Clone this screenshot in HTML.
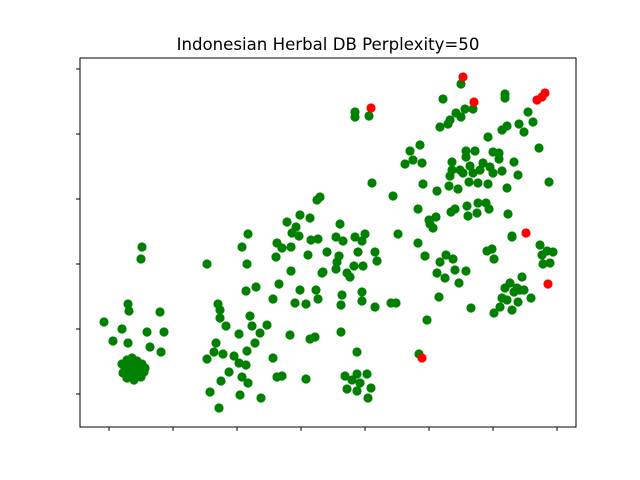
<!DOCTYPE html>
<html><head><meta charset="utf-8"><style>
html,body{margin:0;padding:0;background:#fff;}
svg{display:block;}
</style></head><body>
<svg id="chart" width="640" height="480">
<rect x="0" y="0" width="640" height="480" fill="#fff"/>
<text x="328" y="50" text-anchor="middle" font-family="DejaVu Sans, Liberation Sans, sans-serif" font-size="16.6" fill="#000">Indonesian Herbal DB Perplexity=50</text>
<g id="points"></g>
<g id="axes"></g>
</svg>
<script>
const greenX = [-188,-189,-202,-201,-170,-226,-208,-183,-166,-217,-202,-180,-169,
-208,-203,-198,-193,-188,-185,-195,-202,-207,-199,-192,-186,-196,-203,-190,-200,-205,-194,-189,-198,
-123,-82,-88,-83,-84,-74,-112,-110,-110,-104,-80,-78,-91,-63,-70,-75,-83,-114,-116,-107,-123,-96,-91,-84,-101,-109,-88,-82,-120,-90,-69,-111,-57,-53,-48,-24,
-13,-30,-20,-43,-34,-38,-31,-53,-48,-39,-19,-12,-3,-22,-54,-39,-8,-51,-30,-14,-57,-35,-24,-12,-40,-20,-15,
131,175,175,113,25,25,39,126,135,143,131,120,118,110,198,203,189,194,177,172,158,209,90,80,83,75,92,136,145,136,163,169,169,184,122,122,120,130,140,153,150,160,163,172,143,133,188,139,148,158,177,219,42,93,119,128,107,-10,63,88,121,125,137,148,156,159,147,138,178,99,106,103,100,10,182,6,25,35,68,
13,32,88,9,28,45,47,7,24,33,-7,6,17,20,95,116,123,110,125,136,107,115,129,12,32,32,11,45,61,66,109,141,97,11,27,89,15,27,37,30,17,27,41,38,22,
182,157,162,164,210,217,223,212,213,220,192,180,175,187,194,172,177,188,201,170,182,164,190,184];
const greenY = [-7,-19,-64,-71,-72,-82,-89,-92,-92,-101,-103,-107,-112,
-124,-120,-118,-121,-124,-128,-128,-130,-133,-136,-134,-132,-140,-138,-126,-126,-129,-131,-137,-122,
-24,6,-7,-24,-51,-47,-64,-70,-78,-86,-76,-86,-94,-85,-93,-103,-111,-103,-112,-114,-119,-116,-123,-125,-132,-141,-137,-143,-152,-155,-158,-168,-118,-137,-136,-139,
40,25,22,18,13,7,4,-3,-8,-7,0,1,-12,-15,-17,-31,-33,-44,-50,-50,-59,-63,-64,-59,-95,-99,-97,
156,146,142,141,128,123,124,127,131,131,123,120,116,113,128,118,116,108,114,110,103,92,95,89,80,76,77,89,89,83,88,87,81,78,78,70,64,70,74,77,70,73,67,69,67,67,65,58,57,56,52,58,57,56,54,51,49,43,44,31,28,31,34,37,37,31,27,24,26,20,23,12,16,16,4,3,3,6,6,
-1,-1,-3,-16,-12,-12,-21,-22,-26,-26,-32,-29,-33,-37,-16,-15,-19,-22,-30,-31,-33,-38,-43,-55,-52,-61,-65,-67,-63,-63,-57,-68,-80,-92,-112,-114,-136,-134,-134,-143,-149,-151,-148,-158,-140,
3,-11,-9,-19,-5,-11,-12,-15,-24,-23,-37,-43,-48,-48,-50,-58,-60,-62,-58,-67,-70,-73,-50,-52];
const redX = [133,144,41,215,207,212,196,218,92];
const redY = [163,138,132,147,140,143,7,-44,-118];
const xTicks = [-221,-157,-93,-29,35,99,163,227];
const yTicks = [-154,-89,-24,41,106,171];

const X0=80, X1=576, Y0=58, Y1=427;
const xDom=[-250,246], yDom=[-187,182];
function xs(v){return X0+(v-xDom[0])/(xDom[1]-xDom[0])*(X1-X0);}
function ys(v){return Y1-(v-yDom[0])/(yDom[1]-yDom[0])*(Y1-Y0);}
const NS="http://www.w3.org/2000/svg";
const pg=document.getElementById('points');
function dot(x,y,c,name){
  const e=document.createElementNS(NS,'circle');
  e.setAttribute('cx',xs(x));e.setAttribute('cy',ys(y));e.setAttribute('r',4.6);e.setAttribute('fill',c);
  
  
  pg.appendChild(e);
}
for(let i=0;i<greenX.length;i++) dot(greenX[i],greenY[i],'#008000','green-point');
for(let i=0;i<redX.length;i++) dot(redX[i],redY[i],'#ff0000','red-point');
const ag=document.getElementById('axes');
const fr=document.createElementNS(NS,'rect');
fr.setAttribute('x',X0);fr.setAttribute('y',Y0);fr.setAttribute('width',X1-X0);fr.setAttribute('height',Y1-Y0);
fr.setAttribute('fill','none');fr.setAttribute('stroke','#000');fr.setAttribute('stroke-width','1');


ag.appendChild(fr);
xTicks.forEach(t=>{const l=document.createElementNS(NS,'line');const x=xs(t);
  l.setAttribute('x1',x);l.setAttribute('x2',x);l.setAttribute('y1',Y1);l.setAttribute('y2',Y1+4);l.setAttribute('stroke','#000');
  
  
  ag.appendChild(l);});
yTicks.forEach(t=>{const l=document.createElementNS(NS,'line');const y=ys(t);
  l.setAttribute('x1',X0-4);l.setAttribute('x2',X0);l.setAttribute('y1',y);l.setAttribute('y2',y);l.setAttribute('stroke','#000');
  
  
  ag.appendChild(l);});
</script>
</body></html>
